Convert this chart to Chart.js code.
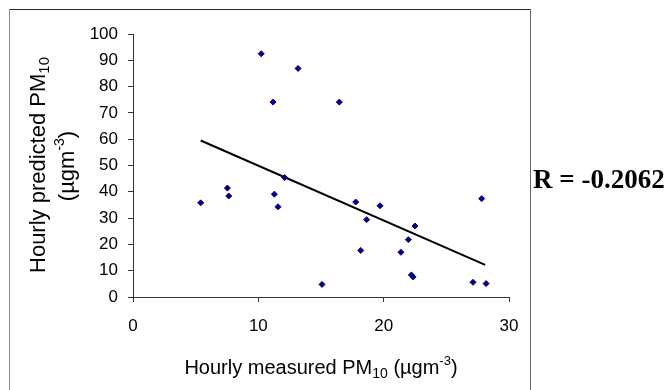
<!DOCTYPE html>
<html>
<head>
<meta charset="utf-8">
<script src="https://cdn.jsdelivr.net/npm/chart.js@4/dist/chart.umd.min.js"></script>
<style>
  body { margin: 0; background: #fff; }
  #wrap { width: 667px; height: 390px; }
</style>
</head>
<body>
<div id="wrap"><canvas id="pmChart" width="667" height="390"></canvas></div>
<script>
// Hourly measured vs predicted PM10
const measured  = [5.40, 7.53, 7.64, 10.23, 11.17, 11.28, 11.57, 12.1, 13.17, 15.08, 16.46, 17.77,
                   18.17, 18.64, 19.71, 21.38, 21.97, 22.21, 22.35, 22.5, 27.13, 27.82, 28.17];
const predicted = [35.8, 41.4, 38.4, 92.5, 74.1, 39.1, 34.3, 45.4, 86.9, 4.8, 74.1, 36.1,
                   17.7, 29.4, 34.7, 17.0, 21.8, 8.4, 7.6, 27.0, 5.6, 37.4, 5.1];

// trend line end points
const trendX = [5.4, 28.1];
const trendY = [59.5, 12.2];

const xTicks = [0, 10, 20, 30];
const yTicks = [0, 10, 20, 30, 40, 50, 60, 70, 80, 90, 100];
const rText = 'R = -0.2062';

const sans = "'Liberation Sans', Arial, sans-serif";

// draw a row of text pieces (normal / sub / superscript) centred on x
function drawRuns(ctx, runs, x, y) {
  let total = 0;
  runs.forEach(r => { ctx.font = r.size + 'px ' + sans; total += ctx.measureText(r.text).width; });
  let cx = x - total / 2;
  ctx.textAlign = 'left';
  ctx.textBaseline = 'alphabetic';
  runs.forEach(r => {
    ctx.font = r.size + 'px ' + sans;
    ctx.fillText(r.text, cx, y + (r.dy || 0));
    cx += ctx.measureText(r.text).width;
  });
}

const decor = {
  id: 'decor',
  afterDraw(chart) {
    const ctx = chart.ctx;
    ctx.save();
    // outer frame
    ctx.lineWidth = 1;
    ctx.strokeStyle = '#2a2a2a';
    ctx.beginPath(); ctx.moveTo(9, 9.5); ctx.lineTo(531, 9.5); ctx.stroke();
    ctx.strokeStyle = '#8c8c8c';
    ctx.beginPath(); ctx.moveTo(9.5, 9); ctx.lineTo(9.5, 390); ctx.stroke();
    ctx.strokeStyle = '#666';
    ctx.beginPath(); ctx.moveTo(530.5, 9); ctx.lineTo(530.5, 390); ctx.stroke();

    ctx.fillStyle = '#000';
    // x axis title
    drawRuns(ctx, [
      { text: 'Hourly measured PM', size: 20 },
      { text: '10', size: 14, dy: 4 },
      { text: ' (\u00b5gm', size: 20 },
      { text: '-3', size: 13, dy: -9 },
      { text: ')', size: 20 }
    ], 321, 374);

    // y axis title, two lines
    ctx.save();
    ctx.translate(45, 165);
    ctx.rotate(-Math.PI / 2);
    drawRuns(ctx, [
      { text: 'Hourly predicted PM', size: 22 },
      { text: '10', size: 15, dy: 4 }
    ], 0, 0);
    ctx.restore();
    ctx.save();
    ctx.translate(74, 166);
    ctx.rotate(-Math.PI / 2);
    drawRuns(ctx, [
      { text: '(\u00b5gm', size: 22 },
      { text: '-3', size: 14, dy: -10 },
      { text: ')', size: 22 }
    ], 0, 0);
    ctx.restore();

    // correlation label
    ctx.font = "bold 27px 'Liberation Serif', 'Times New Roman', serif";
    ctx.textAlign = 'left';
    ctx.textBaseline = 'alphabetic';
    ctx.fillText(rText, 533, 188);
    ctx.restore();
  }
};

const ctx1 = document.getElementById('pmChart').getContext('2d');
new Chart(ctx1, {
  type: 'scatter',
  data: {
    datasets: [{
      label: 'PM10',
      data: measured.map((x, i) => ({ x: x, y: predicted[i] })),
      pointStyle: 'rectRot',
      pointRadius: 3,
      backgroundColor: '#000080',
      borderColor: '#000080',
      borderWidth: 1
    }, {
      type: 'line',
      label: 'trend',
      data: trendX.map((x, i) => ({ x: x, y: trendY[i] })),
      borderColor: '#000',
      borderWidth: 2,
      pointRadius: 0,
      fill: false
    }]
  },
  options: {
    responsive: false,
    animation: false,
    layout: { padding: { left: 0, top: 34, right: 158, bottom: 0 } },
    plugins: { legend: { display: false }, tooltip: { enabled: false } },
    scales: {
      x: {
        type: 'linear',
        min: 0, max: 30,
        afterBuildTicks: s => { s.ticks = xTicks.map(v => ({ value: v })); },
        afterFit: s => { s.height = 93; },
        grid: { drawOnChartArea: false, tickLength: 5, color: '#333' },
        border: { color: '#333', width: 1 },
        ticks: { color: '#000', padding: 14, font: { family: sans, size: 17 } }
      },
      y: {
        min: 0, max: 100,
        afterBuildTicks: s => { s.ticks = yTicks.map(v => ({ value: v })); },
        afterFit: s => { s.width = 133; },
        grid: { drawOnChartArea: false, tickLength: 5, color: '#333' },
        border: { color: '#333', width: 1 },
        ticks: { color: '#000', padding: 10, font: { family: sans, size: 17 } }
      }
    }
  },
  plugins: [decor]
});
</script>
</body>
</html>
